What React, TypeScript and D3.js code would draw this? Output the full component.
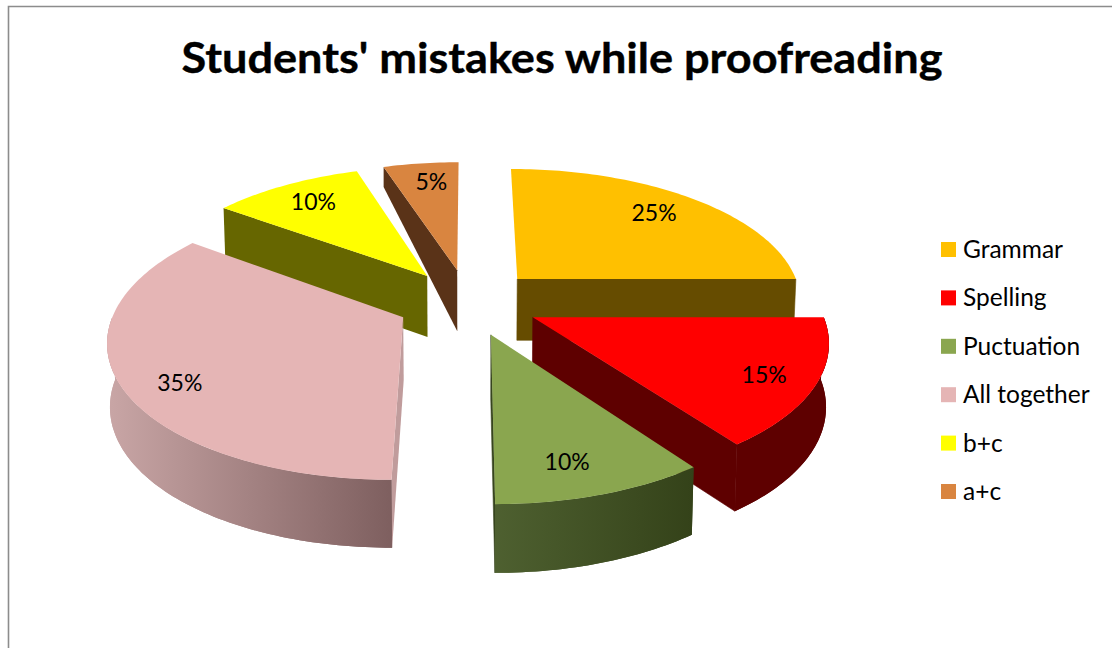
import React from "react";
import * as d3 from "d3";

const title = "Students' mistakes while proofreading";
const categories = ["Grammar", "Spelling", "Puctuation", "All together", "b+c", "a+c"];
const values = [25, 15, 10, 35, 10, 5];
const labels = ["25%", "15%", "10%", "35%", "10%", "5%"];
const topColors = ["#FFC000", "#FF0000", "#8AA64F", "#E5B5B5", "#FFFF00", "#D98540"];
const sideColors = ["#664C00", "#5E0000", "#37451E", "#C09C9C", "#666600", "#5A3318"];
const wallFrom = ["#664C00", "#5E0000", "#4E6030", "#C9A6A6", "#666600", "#5A3318"];
const wallTo = ["#664C00", "#5E0000", "#344219", "#7E5F5F", "#666600", "#5A3318"];
const drawOrder = [5, 4, 0, 3, 1, 2];
const firstEdgeBackDepth: (number | null)[] = [null, null, null, null, null, 20];
const labelNudgeX = [-5, 8, -10, 0, 2, 4];
const labelNudgeY = [0, 5, 4, 13, 0, -1];

const W = 1112, H = 648;
const cx = 468, cy = 302, Rx = 286, Ry = 133;
const persp = 0.15, explode = 0.25, depth = 62, shrink = 0.992, labelR = 0.8;
const TAU = Math.PI * 2;

const pie = d3.pie<number>().sort(null).value((d) => d).startAngle(0).endAngle(TAU);
const arcs = pie(values);

type P = [number, number];
function world(mid: number, r: number, th: number): [number, number] {
  return [explode * Math.sin(mid) + r * Math.sin(th), -explode * Math.cos(mid) - r * Math.cos(th)];
}
function scaleAt(v: number) { return 1 / (1 - persp * v); }
function top(mid: number, r: number, th: number): P {
  const [u, v] = world(mid, r, th);
  const s = scaleAt(v);
  return [cx + Rx * u * s, cy + Ry * v * s];
}
function bottom(mid: number, r: number, th: number): P {
  const [u, v] = world(mid, r, th);
  const s = scaleAt(v);
  return [cx + Rx * u * s * shrink, cy + Ry * v * s + depth * Math.sqrt(s)];
}
const line = d3.line<P>();
const closed = (pts: P[]) => line(pts) + "Z";
const angles = (a: number, b: number) => {
  const n = Math.max(2, Math.ceil((b - a) / 0.02));
  return d3.range(n + 1).map((i) => a + ((b - a) * i) / n);
};

export default function App() {
  return (
    <svg width={W} height={H} style={{ position: "fixed", left: 0, top: 0, background: "#fff" }}>
      <defs>
        {categories.map((c, i) => (
          <linearGradient key={c} id={`wall${i}`} x1="0" x2="1" y1="0" y2="0">
            <stop offset="0" stopColor={wallFrom[i]} />
            <stop offset="1" stopColor={wallTo[i]} />
          </linearGradient>
        ))}
      </defs>
      <path d={`M8.5 ${H}V6.5H${W}`} fill="none" stroke="#8C8C8C" strokeWidth={1.6} />
      <text x={562} y={73} textAnchor="middle" fontFamily="Lato" fontWeight={700} fontSize={42} fill="#000"
        stroke="#000" strokeWidth={0.4} textLength={761} lengthAdjust="spacingAndGlyphs">{title}</text>

      {drawOrder.map((i) => {
        const a = arcs[i];
        const s = a.startAngle, e = a.endAngle, mid = (s + e) / 2;
        const face = (th: number, backD: number | null) => {
          const tA = top(mid, 0, th), tB = top(mid, 1, th);
          const bA = bottom(mid, 0, th);
          const bB: P = backD == null ? bottom(mid, 1, th) : [tB[0], tB[1] + backD];
          return closed([tA, tB, bB, bA]);
        };
        const showEnd = e < TAU - 0.01 && Math.sin(e) > -0.01;
        const showStart = s > 0 && Math.sin(s) < 0.01;
        const ws = Math.max(s, Math.PI / 2), we = Math.min(e, (3 * Math.PI) / 2);
        const hasWall = we > ws;
        const wallPts = hasWall ? angles(ws, we) : [];
        const rim = angles(s, e).map((t) => top(mid, 1, t));
        return (
          <g key={categories[i]}>
            {hasWall && (
              <path
                d={closed([...wallPts.map((t) => top(mid, 1, t)), ...wallPts.slice().reverse().map((t) => bottom(mid, 1, t))])}
                fill={`url(#wall${i})`}
              />
            )}
            {showEnd && <path d={face(e, null)} fill={sideColors[i]} stroke={sideColors[i]} strokeWidth={0.6} />}
            {showStart && <path d={face(s, firstEdgeBackDepth[i])} fill={sideColors[i]} />}
            {hasWall && (
              <path
                d={closed([...wallPts.map((t) => top(mid, 1, t)), ...wallPts.slice().reverse().map((t) => bottom(mid, 1, t))])}
                fill={`url(#wall${i})`}
              />
            )}
            <path d={closed([top(mid, 0, s), ...rim])} fill={topColors[i]} />
          </g>
        );
      })}

      {arcs.map((a, i) => {
        const mid = (a.startAngle + a.endAngle) / 2;
        const [x, y] = top(mid, labelR, mid);
        return (
          <text key={i} x={x + labelNudgeX[i]} y={y + 8 + labelNudgeY[i]} textAnchor="middle" fontFamily="Lato" fontSize={23} fill="#000">{labels[i]}</text>
        );
      })}

      {categories.map((c, i) => {
        const y = 242 + i * 48.4;
        return (
          <g key={c}>
            <rect x={941} y={y} width={15} height={15} fill={topColors[i]} />
            <text x={963} y={y + 16} fontFamily="Lato" fontSize={24.5} fill="#000">{c}</text>
          </g>
        );
      })}
    </svg>
  );
}
